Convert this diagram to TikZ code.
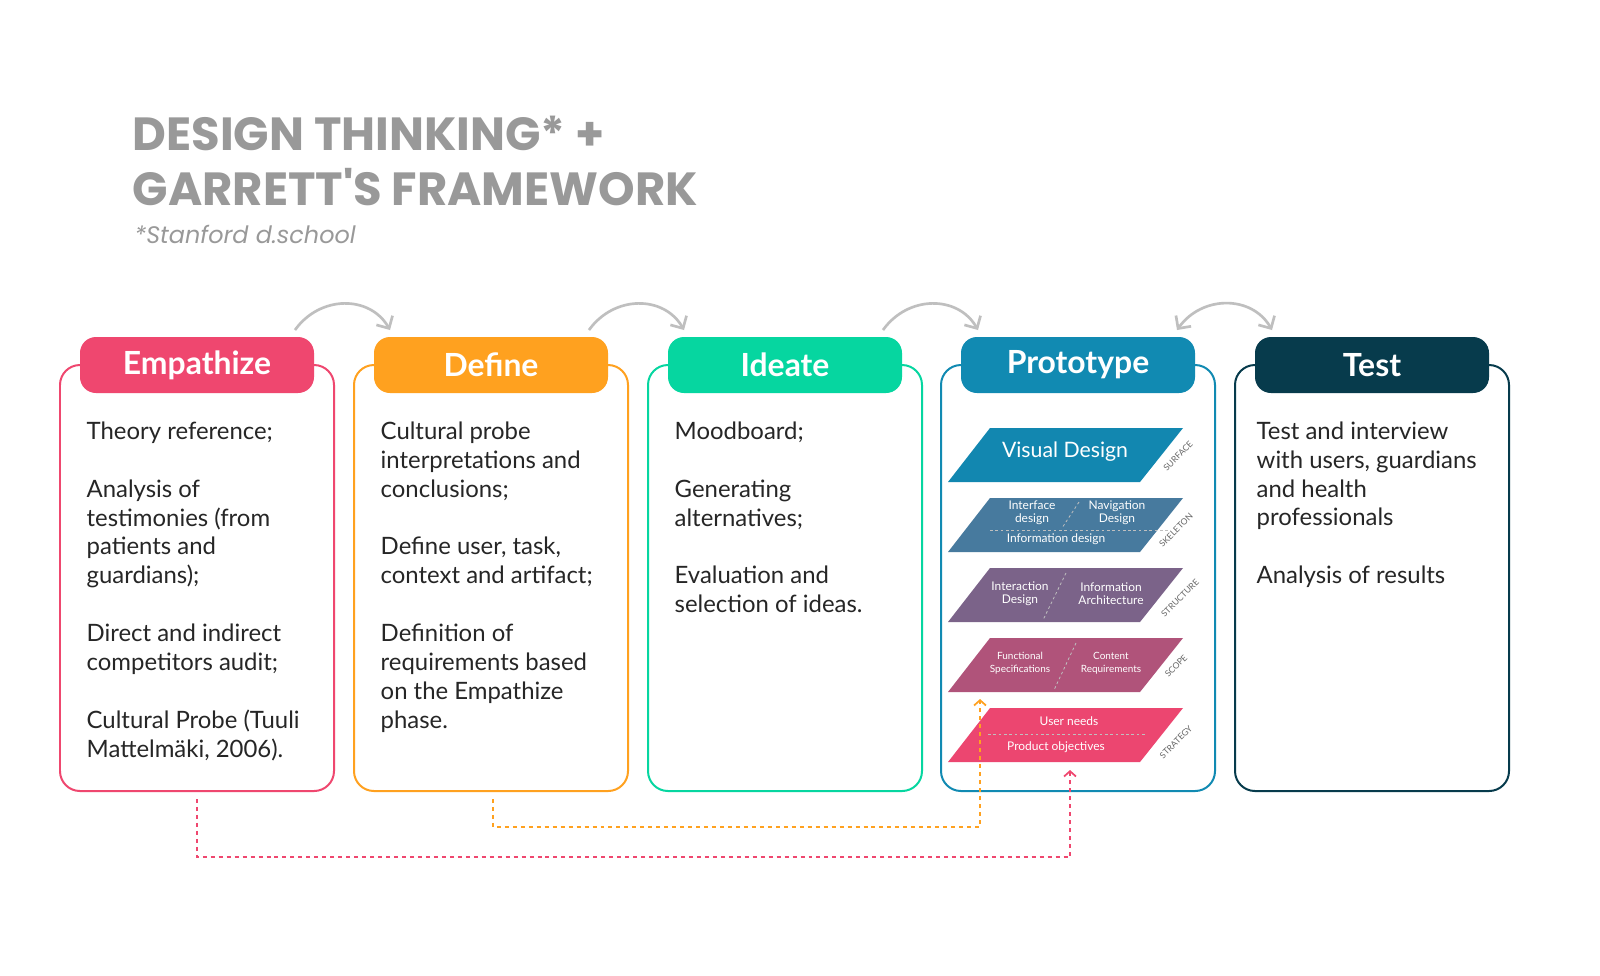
\documentclass[tikz,border=0pt]{standalone}
\usepackage{fontspec}
\setmainfont{Lato}
\newfontfamily\pop{Poppins}
\usetikzlibrary{arrows.meta}
\definecolor{cE}{HTML}{EF476F}
\definecolor{cD}{HTML}{FFA11F}
\definecolor{cI}{HTML}{06D6A0}
\definecolor{cP}{HTML}{118AB2}
\definecolor{cT}{HTML}{073B4C}
\definecolor{lS}{HTML}{1287B0}
\definecolor{lK}{HTML}{477A9E}
\definecolor{lU}{HTML}{7B6389}
\definecolor{lC}{HTML}{B0537A}
\definecolor{lG}{HTML}{EC4670}
\begin{document}
\begin{tikzpicture}[x=0.75bp,y=-0.75bp,
 box/.style={draw=#1,line width=1.5pt,fill=white,rounded corners=15pt},
 head/.style={fill=#1,rounded corners=12pt,minimum width=175.5bp,minimum height=42bp,text=white,font=\fontsize{24}{24}\selectfont\bfseries},
 body/.style={anchor=north west,align=left,font=\fontsize{18}{21.75}\selectfont,text=black!85},
 arc/.style={draw=black!25,line width=2pt,-{Straight Barb[length=7pt,width=14pt]}},
 dash/.style={draw=#1,line width=1.3pt,dash pattern=on 3pt off 3pt},
 lay/.style={fill=#1},
 lt/.style={text=white,font=\fontsize{9}{10}\selectfont,align=center},
 side/.style={rotate=45,text=black!60,font=\fontsize{6.5}{7}\selectfont,inner sep=0pt},
 sep/.style={draw=white!75!black,line width=0.6pt,dash pattern=on 2pt off 2pt}]
\useasboundingbox (0,0) rectangle (1600,975);
\fill[white] (0,0) rectangle (1600,975);
% title
\node[anchor=west,text=black!40,font=\pop\bfseries\fontsize{35}{35}\selectfont] (t1) at (128,133) {DESIGN THINKING* +};
\node[anchor=west,text=black!40,font=\pop\bfseries\fontsize{35}{35}\selectfont] (t2) at (128,187) {GARRETT'S FRAMEWORK};
\node[anchor=west,text=black!40,font=\pop\itshape\fontsize{18}{18}\selectfont] (t3) at (130,234) {*Stanford d.school};
% boxes
\foreach \n/\x/\c in {E/60/cE,D/354/cD,I/648/cI,P/941/cP,T/1235/cT}{
  \draw[box=\c] (\x,365) rectangle (\x+274,791);
}
\node[head=cE] (hE) at (197,365) {Empathize};
\node[head=cD] (hD) at (491,365) {Define};
\node[head=cI] (hI) at (785,365) {Ideate};
\node[head=cP] (hP) at (1078,365) {Prototype};
\node[head=cT] (hT) at (1372,365) {Test};
% arcs
\draw[arc] (295,330) .. controls (320,295) and (370,295) .. (390,330);
\draw[arc] (589,330) .. controls (614,295) and (664,295) .. (684,330);
\draw[arc] (883,330) .. controls (908,295) and (958,295) .. (978,330);
\draw[arc,{Straight Barb[length=7pt,width=14pt]}-{Straight Barb[length=7pt,width=14pt]}] (1177,330) .. controls (1202,295) and (1252,295) .. (1272,330);
% body
\node[body] (bE) at (82,417) {Theory reference;\\[21.75bp]Analysis of\\testimonies (from\\patients and\\guardians);\\[21.75bp]Direct and indirect\\competitors audit;\\[21.75bp]Cultural Probe (Tuuli\\Mattelmäki, 2006).};
\node[body] (bD) at (376,417) {Cultural probe\\interpretations and\\conclusions;\\[21.75bp]Define user, task,\\context and artifact;\\[21.75bp]Definition of\\requirements based\\on the Empathize\\phase.};
\node[body] (bI) at (670,417) {Moodboard;\\[21.75bp]Generating\\alternatives;\\[21.75bp]Evaluation and\\selection of ideas.};
\node[body] (bT) at (1252,417) {Test and interview\\with users, guardians\\and health\\professionals\\[21.75bp]Analysis of results};
% layers
\fill[lay=lS] (990,428) -- (1183,428) -- (1140,482) -- (948,482) -- cycle;
\fill[lay=lK] (990,498) -- (1183,498) -- (1140,552) -- (948,552) -- cycle;
\fill[lay=lU] (990,568) -- (1183,568) -- (1140,622) -- (948,622) -- cycle;
\fill[lay=lC] (990,638) -- (1183,638) -- (1140,692) -- (948,692) -- cycle;
\fill[lay=lG] (990,708) -- (1183,708) -- (1140,762) -- (948,762) -- cycle;
\node[lt,font=\fontsize{16}{16}\selectfont] (vd) at (1065,452) {Visual Design};
\node[lt] (l1) at (1032,513) {Interface\\design};
\node[lt] (l2) at (1117,513) {Navigation\\Design};
\node[lt] (l3) at (1056,539) {Information design};
\draw[sep] (990,530) -- (1170,530);
\draw[sep] (1079,502) -- (1062,528);
\node[lt] (l4) at (1020,594) {Interaction\\Design};
\node[lt] (l5) at (1111,594) {Information\\Architecture};
\draw[sep] (1066,573) -- (1043,620);
\node[lt,font=\fontsize{7.5}{10}\selectfont] (l6) at (1020,663) {Functional\\Specifications};
\node[lt,font=\fontsize{7.5}{10}\selectfont] (l7) at (1111,663) {Content\\Requirements};
\draw[sep] (1076,643) -- (1054,690);
\node[lt] (l8) at (1069,721) {User needs};
\node[lt] (l9) at (1056,747) {Product objectives};
\draw[sep] (988,734) -- (1145,734);
\node[side] (s1) at (1178,456) {SURFACE};
\node[side] (s2) at (1176,530) {SKELETON};
\node[side] (s3) at (1180,598) {STRUCTURE};
\node[side] (s4) at (1176,666) {SCOPE};
\node[side] (s5) at (1176,742) {STRATEGY};
% dashed connectors
\coordinate (pa) at (197,799);
\coordinate (pb) at (1070,770);
\coordinate (oa) at (493,799);
\coordinate (ob) at (980,699);
\draw[dash=cE,-{Straight Barb[length=4pt,width=9pt]}] (pa) -- (197,857) -- (1070,857) -- (pb);
\draw[dash=cD,-{Straight Barb[length=4pt,width=9pt]}] (oa) -- (493,827) -- (980,827) -- (ob);
\end{tikzpicture}
\end{document}
